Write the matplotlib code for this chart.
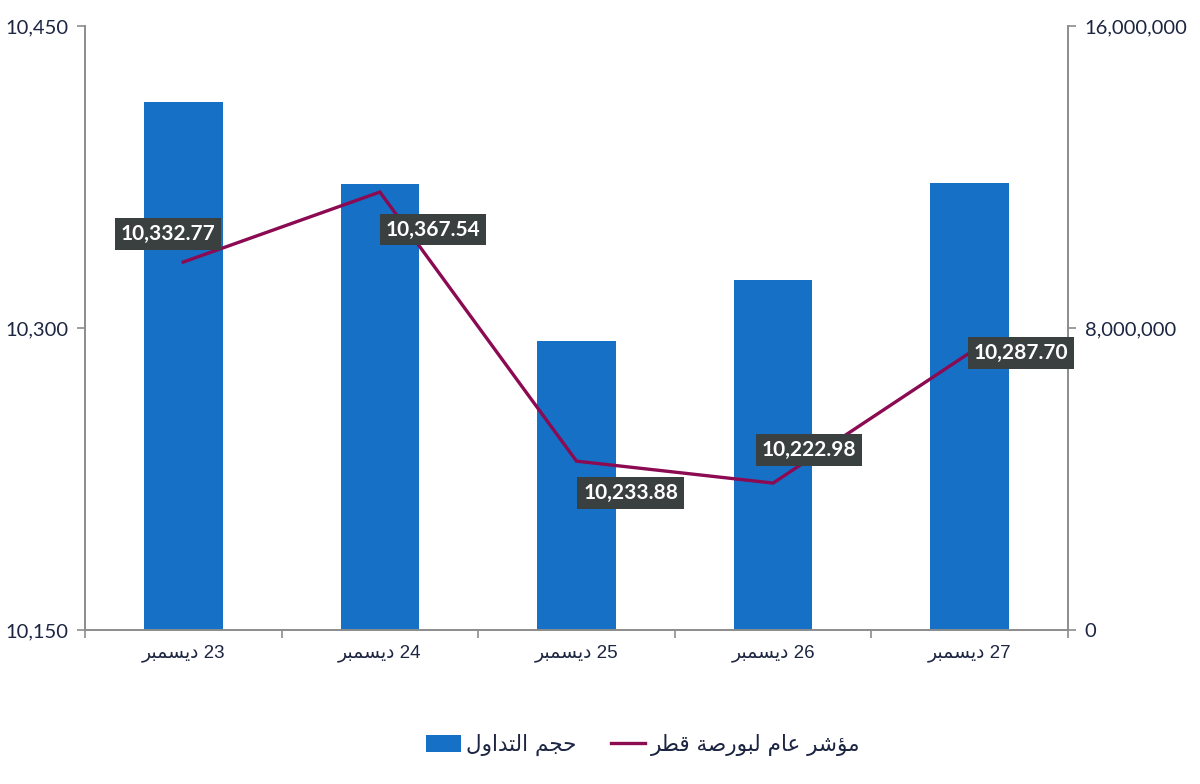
import matplotlib
matplotlib.use('Agg')
import matplotlib.pyplot as plt
from matplotlib.ticker import FuncFormatter

### Data
days = ['23', '24', '25', '26', '27']
index_values = [10332.77, 10367.54, 10233.88, 10222.98, 10287.70]
volumes = [13990000, 11810000, 7660000, 9270000, 11840000]
# label offsets (points) from each line point
label_offsets = [(-11, 20), (38, -27), (39, -23), (26, 24), (37, 0)]

month_word = 'ديسمبر'
bar_name = 'حجم التداول'
line_name = 'مؤشر عام لبورصة قطر'

BAR_COLOR = '#1570c6'
LINE_COLOR = '#8b0a52'
BOX_COLOR = '#3a4040'
TEXT_COLOR = '#1c2541'
SPINE_COLOR = '#8c8c8c'


### Minimal Arabic shaping (matplotlib has no shaping / bidi)
# isolated, final, initial, medial
FORMS = {
    'ا': ('\uFE8D', '\uFE8E', None, None),
    'ب': ('\uFE8F', '\uFE90', '\uFE91', '\uFE92'),
    'ة': ('\uFE93', '\uFE94', None, None),
    'ت': ('\uFE95', '\uFE96', '\uFE97', '\uFE98'),
    'ج': ('\uFE9D', '\uFE9E', '\uFE9F', '\uFEA0'),
    'ح': ('\uFEA1', '\uFEA2', '\uFEA3', '\uFEA4'),
    'د': ('\uFEA9', '\uFEAA', None, None),
    'ر': ('\uFEAD', '\uFEAE', None, None),
    'س': ('\uFEB1', '\uFEB2', '\uFEB3', '\uFEB4'),
    'ش': ('\uFEB5', '\uFEB6', '\uFEB7', '\uFEB8'),
    'ص': ('\uFEB9', '\uFEBA', '\uFEBB', '\uFEBC'),
    'ط': ('\uFEC1', '\uFEC2', '\uFEC3', '\uFEC4'),
    'ع': ('\uFEC9', '\uFECA', '\uFECB', '\uFECC'),
    'ق': ('\uFED5', '\uFED6', '\uFED7', '\uFED8'),
    'ل': ('\uFEDD', '\uFEDE', '\uFEDF', '\uFEE0'),
    'م': ('\uFEE1', '\uFEE2', '\uFEE3', '\uFEE4'),
    'و': ('\uFEED', '\uFEEE', None, None),
    'ؤ': ('\uFE85', '\uFE86', None, None),
    'ي': ('\uFEF1', '\uFEF2', '\uFEF3', '\uFEF4'),
}


def shape_word(word):
    '''Pick contextual forms and return the word in visual (left to right) order.'''
    out = []
    for i, ch in enumerate(word):
        iso, fin, ini, med = FORMS[ch]
        prev_joins = i > 0 and FORMS[word[i - 1]][2] is not None
        next_exists = i < len(word) - 1
        if prev_joins and next_exists and med:
            out.append(med)
        elif prev_joins:
            out.append(fin)
        elif next_exists and ini:
            out.append(ini)
        else:
            out.append(iso)
    return ''.join(reversed(out))


def shape_phrase(phrase):
    return ' '.join(shape_word(w) for w in reversed(phrase.split(' ')))


### Plotting
fig = plt.figure(figsize=(12, 7.84), dpi=100)
ax = fig.add_axes([0.0708, 0.1964, 0.8192, 0.7704])
ax2 = ax.twinx()

x = list(range(len(days)))
bars = ax2.bar(x, volumes, width=0.4, color=BAR_COLOR, label=shape_phrase(bar_name))
line, = ax.plot(x, index_values, color=LINE_COLOR, lw=2.4, solid_joinstyle='miter',
                label=shape_phrase(line_name))

ax.set_zorder(ax2.get_zorder() + 1)
ax.patch.set_visible(False)

ax.set_xlim(-0.5, len(days) - 0.5)
ax.set_ylim(10150, 10450)
ax2.set_ylim(0, 16000000)
ax.set_yticks([10150, 10300, 10450])
ax2.set_yticks([0, 8000000, 16000000])
ax.yaxis.set_major_formatter(FuncFormatter(lambda v, p: f'{v:,.0f}'))
ax2.yaxis.set_major_formatter(FuncFormatter(lambda v, p: f'{v:,.0f}'))

xlabels = [shape_word(month_word) + ' ' + d for d in days]
ax.set_xticks(x)
ax.set_xticklabels(xlabels, family=['Liberation Sans', 'DejaVu Sans'], fontsize=13.5,
                   color=TEXT_COLOR)
ax.set_xticks([i - 0.5 for i in range(len(days) + 1)], minor=True)
ax.tick_params(axis='x', which='major', length=0, pad=10)
ax.tick_params(axis='x', which='minor', length=6, color=SPINE_COLOR, width=1.2)

for a in (ax, ax2):
    a.spines['top'].set_visible(False)
    for s in ('left', 'right', 'bottom'):
        a.spines[s].set_color(SPINE_COLOR)
        a.spines[s].set_linewidth(1.2)
    a.tick_params(axis='y', length=6, color=SPINE_COLOR, width=1.2, labelsize=14.5,
                  labelcolor=TEXT_COLOR, pad=6)
    for lbl in a.get_yticklabels():
        lbl.set_family('Lato')

for xi, val, off in zip(x, index_values, label_offsets):
    ax.annotate(f'{val:,.2f}', (xi, val), xytext=off, textcoords='offset points',
                ha='center', va='center', color='white', fontsize=15, fontweight='bold',
                family='Lato', zorder=5,
                bbox=dict(boxstyle='square,pad=0.28', fc=BOX_COLOR, ec='none'))

fig.legend(handles=[bars, line], loc='center', bbox_to_anchor=(0.536, 0.05), ncol=2,
           frameon=False, prop={'family': ['DejaVu Sans'], 'size': 15.5},
           handlelength=1.6, handleheight=0.8, handletextpad=0.25, columnspacing=1.6,
           labelcolor=TEXT_COLOR)

fig.savefig('out.png', dpi=100)
